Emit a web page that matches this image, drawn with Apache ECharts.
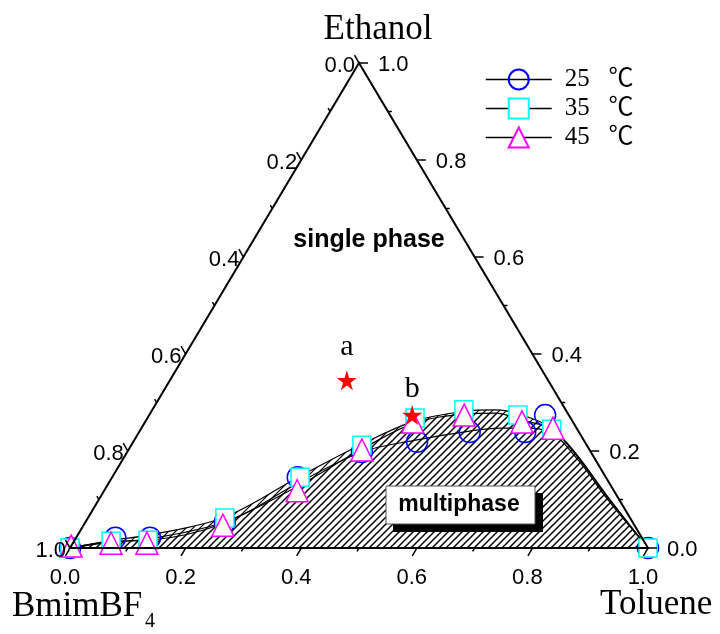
<!DOCTYPE html>
<html>
<head>
<meta charset="utf-8">
<script src="https://cdn.jsdelivr.net/npm/echarts@6/dist/echarts.min.js"></script>
<style>
  html, body { margin: 0; padding: 0; background: #fff; }
  #main { width: 720px; height: 634px; }
</style>
</head>
<body>
<div id="main"></div>
<script>
// compositions as [toluene, ethanol] mass fraction, BmimBF4 = 1 - both
const points25 = [[0, 0], [0.068, 0.021], [0.128, 0.021], [0.241, 0.054], [0.321, 0.146], [0.406, 0.198],
  [0.491, 0.219], [0.572, 0.239], [0.668, 0.239], [0.685, 0.274], [1, 0]];
const points35 = [[0, 0], [0.064, 0.014], [0.127, 0.016], [0.237, 0.062], [0.325, 0.146], [0.399, 0.212],
  [0.463, 0.268], [0.539, 0.285], [0.638, 0.274], [0.711, 0.245], [1, 0]];
const points45 = [[0, 0.004], [0.066, 0.010], [0.128, 0.010], [0.241, 0.047], [0.334, 0.118], [0.404, 0.202],
  [0.463, 0.260], [0.545, 0.274], [0.652, 0.260], [0.712, 0.247], [1, 0.004]];

// binodal curves as drawn in the figure
const curve25 = [[0, 0], [0.071, 0.014], [0.130, 0.016], [0.242, 0.052], [0.330, 0.136], [0.406, 0.198],
  [0.489, 0.223], [0.571, 0.241], [0.620, 0.247], [0.664, 0.247], [0.711, 0.239], [0.790, 0.180],
  [0.880, 0.100], [1, 0]];
const curve35 = [[0, 0], [0.064, 0.016], [0.125, 0.027], [0.236, 0.064], [0.324, 0.148], [0.398, 0.214],
  [0.466, 0.262], [0.542, 0.282], [0.593, 0.285], [0.640, 0.276], [0.710, 0.247], [0.780, 0.193],
  [0.875, 0.108], [1, 0]];
const curve45 = [[0, 0], [0.066, 0.012], [0.129, 0.019], [0.241, 0.054], [0.333, 0.130], [0.403, 0.204],
  [0.468, 0.258], [0.545, 0.276], [0.596, 0.278], [0.650, 0.264], [0.714, 0.243], [0.786, 0.186],
  [0.878, 0.104], [1, 0]];

const stateNames = ['a', 'b'];
const statePoints = [[0.306, 0.346], [0.455, 0.274]];

const seriesNames = ['25   ℃', '35   ℃', '45   ℃'];
const tickValues = [0, 0.2, 0.4, 0.6, 0.8, 1.0];
const tickLabels = ['0.0', '0.2', '0.4', '0.6', '0.8', '1.0'];
const minorTicks = [0.1, 0.3, 0.5, 0.7, 0.9];

// ternary -> cartesian (x = toluene + ethanol/2, y = ethanol)
function toXY(p) { return [p[0] + p[1] / 2, p[1]]; }

function hatch() {
  const c = document.createElement('canvas');
  c.width = 7; c.height = 7;
  const g = c.getContext('2d');
  g.strokeStyle = '#000';
  g.lineWidth = 1.2;
  g.beginPath();
  g.moveTo(-1, 8); g.lineTo(8, -1);
  g.moveTo(-1, 1); g.lineTo(1, -1);
  g.moveTo(6, 8); g.lineTo(8, 6);
  g.stroke();
  return c;
}
const pattern = { image: hatch(), repeat: 'repeat' };

const tickFont = '22px "Liberation Sans", Arial, sans-serif';

function seg(p, dx, dy) {
  return { type: 'line', shape: { x1: p[0], y1: p[1], x2: p[0] + dx, y2: p[1] + dy },
    style: { stroke: '#000', lineWidth: 1.5 } };
}
function txt(s, x, y, align) {
  return { type: 'text', style: { text: s, x: x, y: y, font: tickFont, fill: '#000',
    textAlign: align, textVerticalAlign: 'middle' } };
}

function renderAxes(params, api) {
  const v = api.value(0);
  const major = api.value(1) === 1;
  const len = major ? 9 : 4;
  const kids = [];
  if (params.dataIndex === 0) {
    const a = api.coord(toXY([0, 0])), b = api.coord(toXY([1, 0])), c = api.coord(toXY([0, 1]));
    kids.push({ type: 'polygon', shape: { points: [a, b, c] },
      style: { fill: 'none', stroke: '#000', lineWidth: 2 } });
  }
  const pb = api.coord(toXY([v, 0]));       // toluene along the bottom
  const pl = api.coord(toXY([0, 1 - v]));   // BmimBF4 along the left side
  const pr = api.coord(toXY([1 - v, v]));   // ethanol along the right side
  kids.push(seg(pb, -0.5 * len, 0.866 * len), seg(pl, -0.5 * len, -0.866 * len), seg(pr, len, 0));
  if (major) {
    const s = tickLabels[params.dataIndex];
    kids.push(txt(s, pb[0] - 5, pb[1] + 30, 'center'));
    kids.push(txt(s, pl[0] - 4, pl[1] + 3, 'right'));
    kids.push(txt(s, pr[0] + 19, pr[1] + 2, 'left'));
  }
  return { type: 'group', children: kids };
}

const axisData = tickValues.map(v => [v, 1]).concat(minorTicks.map(v => [v, 0]));

function curveSeries(name, data, fill) {
  return {
    name: name, type: 'line', data: data.map(toXY), smooth: 0.35,
    symbol: 'none', silent: true, z: 2,
    lineStyle: { color: '#000', width: 1.2 },
    areaStyle: fill ? { color: pattern, opacity: 1 } : null
  };
}
function markerSeries(name, data, symbol, size, stroke, fill) {
  return {
    name: name, type: 'line', data: data.map(toXY), symbol: symbol, symbolSize: size,
    showAllSymbol: true, z: 4,
    lineStyle: { opacity: 0 },
    itemStyle: { color: fill, borderColor: stroke, borderWidth: 1.5 }
  };
}

const chart = echarts.init(document.getElementById('main'));
chart.setOption({
  animation: false,
  grid: { left: 70, right: 72, top: 63, bottom: 86 },
  xAxis: { type: 'value', min: 0, max: 1, show: false },
  yAxis: { type: 'value', min: 0, max: 1, show: false },
  legend: {
    data: seriesNames, orient: 'vertical', left: 480, top: 62,
    itemWidth: 66, itemHeight: 25, itemGap: 4, selectedMode: false,
    textStyle: { fontFamily: '"Liberation Serif", "Noto Sans CJK SC", serif', fontSize: 25, color: '#000',
      padding: [0, 0, 0, 8] },
    lineStyle: { color: '#000', width: 1.5, opacity: 1 }
  },
  graphic: [
    { type: 'text', style: { text: 'Ethanol', x: 378, y: 30, font: '35px "Liberation Serif", serif',
      fill: '#000', textAlign: 'center', textVerticalAlign: 'middle' } },
    { type: 'text', style: { text: 'BmimBF', x: 12, y: 607, font: '35px "Liberation Serif", serif',
      fill: '#000', textAlign: 'left', textVerticalAlign: 'middle' } },
    { type: 'text', style: { text: '4', x: 145, y: 622, font: '20px "Liberation Serif", serif',
      fill: '#000', textAlign: 'left', textVerticalAlign: 'middle' } },
    { type: 'text', style: { text: 'Toluene', x: 600, y: 605, font: '35px "Liberation Serif", serif',
      fill: '#000', textAlign: 'left', textVerticalAlign: 'middle' } },
    { type: 'text', style: { text: 'single phase', x: 369, y: 240, font: 'bold 25px "Liberation Sans", Arial',
      fill: '#000', textAlign: 'center', textVerticalAlign: 'middle' } },
    { type: 'rect', shape: { x: 393, y: 493, width: 150, height: 39 }, style: { fill: '#000' }, z: 10 },
    { type: 'rect', shape: { x: 386, y: 486, width: 149, height: 38 },
      style: { fill: '#fff', stroke: '#555', lineWidth: 1 }, z: 11 },
    { type: 'text', style: { text: 'multiphase', x: 459, y: 505, font: 'bold 23px "Liberation Sans", Arial',
      fill: '#000', textAlign: 'center', textVerticalAlign: 'middle' }, z: 12 }
  ],
  series: [
    curveSeries('c35', curve35, true),
    curveSeries('c45', curve45, true),
    curveSeries('c25', curve25, false),
    markerSeries(seriesNames[0], points25, 'circle', 21, '#0000ff', 'rgba(255,255,255,0)'),
    markerSeries(seriesNames[1], points35, 'rect', 18, '#00ffff', '#fff'),
    markerSeries(seriesNames[2], points45, 'triangle', 22, '#ff00ff', '#fff'),
    {
      type: 'custom', renderItem: renderAxes, data: axisData, silent: true, z: 5,
      encode: { x: 0, y: 1 }
    },
    {
      type: 'scatter', z: 6, symbol: 'path://M50,0 L61,35 L98,35 L68,57 L79,91 L50,70 L21,91 L32,57 L2,35 L39,35 Z',
      symbolSize: 20, itemStyle: { color: '#ff0000', opacity: 1 },
      data: statePoints.map((p, i) => ({
        name: stateNames[i], value: toXY(p),
        label: { distance: i === 0 ? 8 : 1 }
      })),
      label: { show: true, position: 'top', formatter: '{b}', color: '#000',
        fontFamily: '"Liberation Serif", serif', fontSize: 30 }
    }
  ]
});
</script>
</body>
</html>
